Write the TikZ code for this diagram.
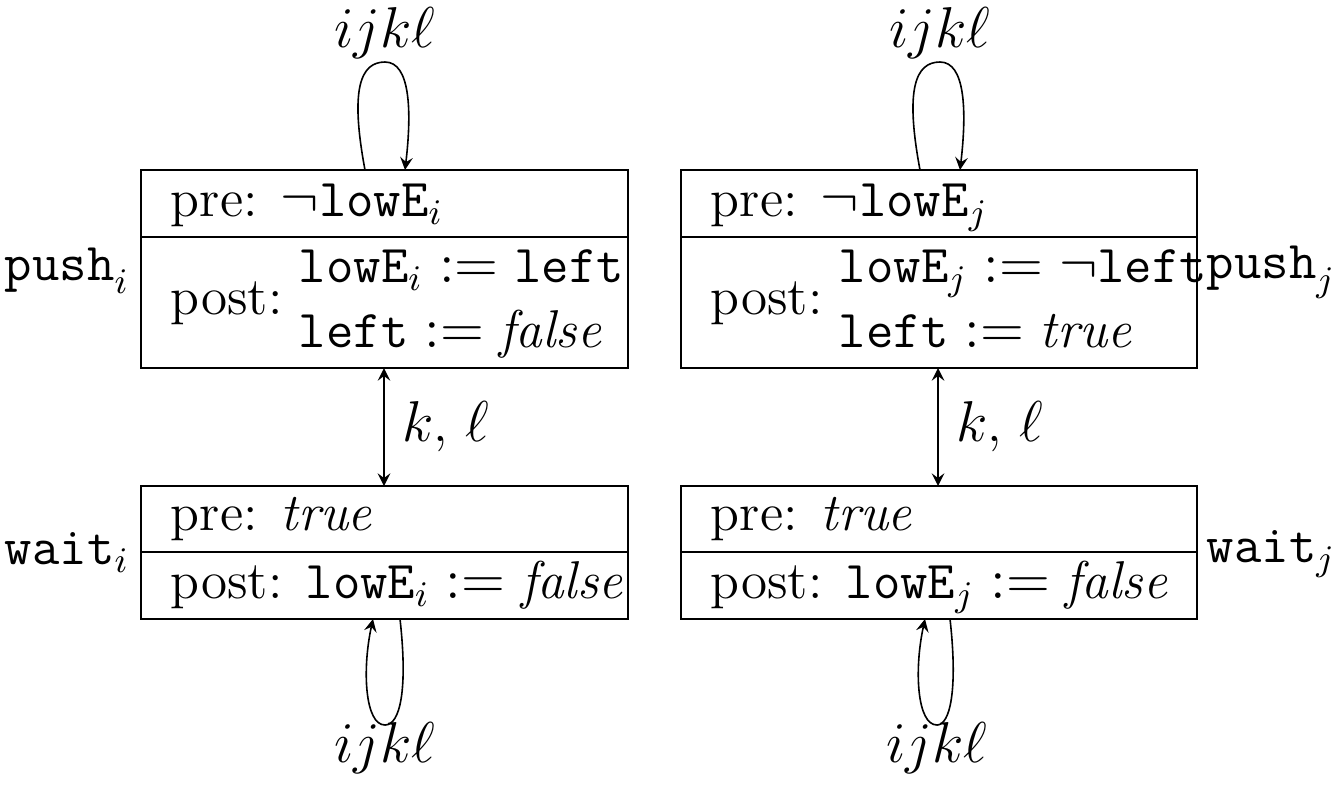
\documentclass[tikz,border=0pt]{standalone}
\usepackage{amssymb}
\begin{document}
\begin{tikzpicture}[x=0.25pt,y=-0.25pt,font=\fontsize{13.3}{16}\selectfont,
  box/.style={draw,line width=0.4pt},
  lbl/.style={inner sep=0pt,anchor=base west},
  arr/.style={->,>=stealth,line width=0.4pt}]
\useasboundingbox (0,0) rectangle (1336,784);
% left boxes
\draw[box] (141,170) rectangle (628,368); \draw (141,237)--(628,237);
\draw[box] (141,486) rectangle (628,619); \draw (141,552)--(628,552);
\draw[box] (681,170) rectangle (1197,368); \draw (681,237)--(1197,237);
\draw[box] (681,486) rectangle (1197,619); \draw (681,552)--(1197,552);
\coordinate (b1) at (384,368); \coordinate (b2) at (384,486);
\coordinate (c1) at (938,368); \coordinate (c2) at (938,486);
% texts
\node[lbl] (t1) at (170,216) {pre: $\neg\texttt{lowE}_i$};
\node[lbl] (t2) at (170,314) {post:};
\node[lbl] (t3) at (298,282) {$\texttt{lowE}_i := \texttt{left}$};
\node[lbl] (t4) at (298,347) {$\texttt{left} := \textit{false}$};
\node[lbl] (t5) at (170,530) {pre: \textit{true}};
\node[lbl] (t6) at (170,598) {post: $\texttt{lowE}_i := \textit{false}$};
\node[lbl] (u1) at (710,216) {pre: $\neg\texttt{lowE}_j$};
\node[lbl] (u2) at (710,314) {post:};
\node[lbl] (u3) at (838,282) {$\texttt{lowE}_j := \neg\texttt{left}$};
\node[lbl] (u4) at (838,347) {$\texttt{left} := \textit{true}$};
\node[lbl] (u5) at (710,530) {pre: \textit{true}};
\node[lbl] (u6) at (710,598) {post: $\texttt{lowE}_j := \textit{false}$};
\node[anchor=base east,inner sep=0pt] (pi) at (130,280) {$\texttt{push}_i$};
\node[anchor=base east,inner sep=0pt] (wi) at (130,564) {$\texttt{wait}_i$};
\node[anchor=base west,inner sep=0pt] (pj) at (1206,278) {$\texttt{push}_j$};
\node[anchor=base west,inner sep=0pt] (wj) at (1206,562) {$\texttt{wait}_j$};
% double arrows
\draw[<->,>=stealth] (b1) -- node[right,xshift=1pt] {$k$, $\ell$} (b2);
\draw[<->,>=stealth] (c1) -- node[right,xshift=1pt] {$k$, $\ell$} (c2);
% loops
\coordinate (a1) at (365,170); \coordinate (a2) at (405,170);
\draw[arr] (a1) .. controls (350,90) and (360,62) .. (385,62) .. controls (410,62) and (412,110) .. (a2);
\node (l1) at (385,33) {$ijk\ell$};
\coordinate (a3) at (400,619); \coordinate (a4) at (373,619);
\draw[arr] (a3) .. controls (408,690) and (400,725) .. (385,725) .. controls (365,725) and (362,670) .. (a4);
\node (l2) at (385,748) {$ijk\ell$};
\coordinate (d1) at (920,170); \coordinate (d2) at (960,170);
\draw[arr] (d1) .. controls (905,90) and (915,62) .. (940,62) .. controls (965,62) and (967,110) .. (d2);
\node (l3) at (940,33) {$ijk\ell$};
\coordinate (d3) at (950,619); \coordinate (d4) at (925,619);
\draw[arr] (d3) .. controls (958,690) and (950,725) .. (937,725) .. controls (917,725) and (914,670) .. (d4);
\node (l4) at (937,748) {$ijk\ell$};
\end{tikzpicture}
\end{document}
